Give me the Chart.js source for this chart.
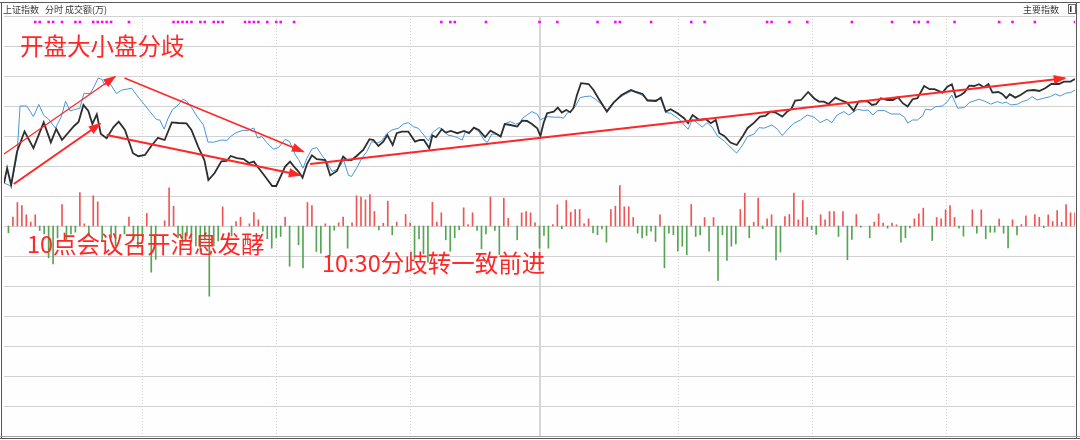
<!DOCTYPE html>
<html>
<head>
<meta charset="utf-8">
<script src="https://cdn.jsdelivr.net/npm/chart.js@4"></script>
<style>
html,body{margin:0;padding:0;background:#ffffff;}
#wrap{width:1080px;height:440px;position:relative;background:#fefefe;}
canvas{display:block;}
</style>
</head>
<body>
<div id="wrap"><canvas id="c" width="1080" height="440"></canvas></div>
<script>
// ---------- DATA ----------
// minute index from 9:30 (0) to 15:00 (240)
const weightedTime = [0,0.7,1.6,2.9,4.6,6.6,8.9,10.5,11.7,13.0,15.7,16.7,17.8,18.9,19.8,20.8,21.7,23.0,24.5,25.7,27.1,28.9,30.1,31.6,33.0,34.5,36.0,37.6,39.1,40.9,42.0,43.5,44.9,45.8,47.2,48.7,49.9,50.8,52.2,53.7,54.9,56.0,57.1,58.6,60.1,61.0,62.0,63.0,64.1,65.3,66.0,66.9,67.9,69.0,70.1,72.0,73.1,74.6,76.0,76.8,77.9,79.0,80.5,81.9,82.8,83.9,85.0,85.9,87.1,88.0,89.1,90.6,92.1,93.2,94.1,95.3,96.0,96.8,98.1,99.0,100.1,101.6,103.1,104.2,105.3,106.4,107.8,109.0,110.1,111.3,112.2,113.5,115.0,116.1,117.2,118.3,119.5,120.2,120.9,121.7,123.2,124.1,125.0,126.0,126.9,127.6,128.4,129.3,131.0,132.1,133.2,134.3,135.1,136.6,138.4,140.5,141.4,143.1,144.2,146.1,147.2,148.3,149.4,150.9,152.4,153.3,154.3,155.8,157.3,158.4,159.5,160.3,161.4,162.8,164.2,165.5,166.6,168.1,169.4,170.6,171.8,172.9,174.4,175.5,176.4,177.3,178.6,180.2,181.5,182.6,183.7,184.8,186.3,187.4,188.9,190.4,191.5,192.5,193.6,194.5,195.4,196.5,198.0,199.2,200.3,201.4,202.5,203.6,204.7,206.2,207.4,208.5,210.3,211.4,212.4,213.3,214.4,215.2,216.3,217.4,218.5,219.6,220.6,221.5,222.8,223.7,224.6,225.4,226.6,227.8,229.3,230.8,232.0,233.3,234.7,236.4,237.5,239.0,240];
const weightedValue = [3261.5,3268.9,3260.5,3277.0,3287.3,3278.9,3291.8,3281.8,3288.5,3283.0,3290.0,3292.0,3300.5,3297.5,3291.0,3295.8,3286.0,3283.9,3289.3,3292.2,3288.0,3276.4,3274.9,3275.5,3280.0,3284.1,3283.0,3291.8,3291.5,3291.3,3288.0,3279.7,3273.0,3263.0,3266.5,3272.3,3272.5,3275.0,3273.9,3273.5,3271.5,3272.2,3268.9,3264.5,3260.0,3260.0,3264.8,3269.7,3272.2,3268.9,3267.2,3264.2,3271.0,3275.3,3273.4,3273.0,3265.3,3267.5,3274.7,3273.0,3273.0,3275.0,3278.0,3283.4,3283.0,3280.0,3282.2,3285.5,3280.5,3286.4,3287.2,3287.2,3282.2,3283.0,3283.0,3278.9,3285.3,3284.4,3288.4,3286.7,3287.5,3286.4,3287.5,3286.4,3289.2,3288.0,3284.4,3287.7,3286.4,3284.7,3291.0,3290.5,3289.7,3292.7,3292.5,3291.0,3288.9,3285.0,3291.4,3296.4,3297.2,3299.2,3296.7,3298.0,3296.9,3298.9,3305.5,3311.4,3311.0,3308.0,3303.9,3300.0,3297.2,3301.7,3305.5,3308.0,3307.2,3306.0,3302.7,3302.5,3304.2,3297.2,3298.4,3296.4,3293.9,3291.4,3295.5,3293.0,3293.4,3291.4,3293.0,3286.4,3285.0,3281.7,3280.5,3284.7,3288.9,3291.7,3294.7,3295.0,3297.2,3296.7,3294.7,3297.2,3298.4,3302.7,3303.0,3307.0,3303.9,3302.2,3302.2,3301.0,3304.2,3303.0,3301.7,3297.7,3302.2,3302.5,3302.2,3300.5,3300.9,3303.9,3303.0,3303.0,3304.4,3301.4,3299.7,3303.4,3303.9,3310.0,3308.4,3308.4,3306.7,3309.7,3310.9,3304.4,3305.5,3306.7,3310.2,3310.0,3310.9,3309.4,3311.0,3306.7,3307.0,3306.0,3303.9,3305.9,3304.2,3305.5,3307.7,3308.0,3307.5,3308.9,3311.0,3311.0,3312.2,3312.2,3313.5];

const leadingTime = [0,1.6,2.9,3.6,5.1,6.6,7.8,8.9,10.0,11.5,12.8,13.8,14.8,15.9,17.0,17.9,19.3,20.0,21.1,21.9,22.6,23.7,25.2,26.4,27.7,28.6,29.9,31.2,32.7,34.2,34.9,35.9,36.7,37.7,39.0,40.1,40.9,42.0,43.2,44.7,45.7,47.0,48.7,50.0,50.8,51.9,53.4,54.7,56.0,56.8,57.8,58.9,60.4,61.6,63.0,64.0,65.3,66.0,67.0,67.9,69.0,70.1,71.2,72.3,73.5,74.4,75.3,76.1,77.2,77.9,79.0,80.2,81.3,82.4,83.5,84.6,85.7,86.9,88.4,89.5,90.6,91.7,92.8,93.9,95.1,96.0,97.5,98.2,99.4,100.5,101.6,102.7,103.4,104.5,105.3,106.4,107.6,108.3,109.3,110.5,111.3,112.4,113.5,114.6,115.7,116.2,117.2,118.3,119.5,120.2,120.9,121.9,123.2,124.7,125.4,126.2,127.3,128.0,129.1,130.2,131.4,132.5,133.6,135.1,136.2,137.7,139.2,140.7,141.8,142.9,144.2,145.7,147.2,148.3,149.4,151.3,152.4,153.3,154.3,155.4,156.5,157.5,158.7,159.9,161.4,162.8,164.2,165.5,166.6,168.1,169.2,170.3,172.1,173.3,174.4,175.5,177.0,178.5,180.0,181.5,182.9,184.4,185.5,186.7,188.2,189.3,190.0,191.3,192.5,193.6,194.7,195.8,197.3,198.8,200.7,201.8,202.5,203.6,204.7,205.9,206.5,207.7,208.8,210.3,211.4,212.4,213.7,215.2,216.3,218.5,220.0,221.1,222.6,223.7,224.6,225.6,227.1,228.2,229.3,230.4,231.5,233.0,234.5,235.6,236.7,237.9,239.0,240];
const leadingValue = [3261.5,3260.0,3275.0,3300.0,3300.0,3294.7,3300.8,3295.3,3293.4,3288.9,3294.4,3302.4,3297.5,3298.3,3298.9,3306.3,3306.2,3308.9,3313.9,3313.4,3310.5,3311.4,3306.2,3308.0,3308.5,3308.9,3305.0,3301.4,3297.2,3293.2,3293.0,3288.4,3293.5,3298.0,3300.5,3303.4,3302.5,3299.3,3295.0,3290.5,3282.0,3281.9,3283.0,3282.8,3284.8,3286.5,3287.8,3287.8,3289.0,3284.0,3284.7,3281.7,3278.3,3279.4,3283.3,3282.2,3275.5,3273.3,3268.9,3274.0,3278.5,3279.2,3275.5,3272.2,3267.3,3268.0,3270.0,3273.0,3265.3,3264.8,3268.9,3273.9,3277.2,3282.2,3281.4,3282.5,3286.0,3288.0,3288.9,3291.0,3291.7,3289.7,3288.9,3286.0,3282.5,3286.7,3289.2,3288.5,3285.5,3285.0,3284.2,3283.0,3287.2,3287.0,3288.9,3287.2,3283.0,3281.7,3286.0,3285.9,3285.0,3291.4,3292.2,3290.9,3291.7,3293.9,3295.5,3297.2,3295.9,3293.0,3293.9,3294.7,3294.4,3294.4,3293.9,3296.4,3298.0,3299.7,3304.2,3304.7,3305.0,3303.4,3301.4,3297.7,3300.9,3303.9,3305.9,3307.5,3306.5,3305.5,3303.3,3303.0,3303.4,3296.7,3296.4,3293.4,3290.5,3288.4,3293.4,3291.4,3289.4,3291.7,3289.4,3285.0,3282.5,3279.4,3276.4,3280.5,3284.7,3286.0,3289.2,3288.9,3290.5,3288.4,3285.2,3288.0,3291.4,3293.0,3295.5,3294.4,3291.7,3293.4,3291.7,3295.5,3297.2,3295.5,3296.5,3298.4,3297.8,3298.0,3295.5,3297.7,3297.7,3296.0,3296.0,3294.4,3291.4,3293.0,3293.0,3295.2,3298.4,3298.0,3299.7,3300.0,3302.2,3305.5,3298.9,3299.2,3301.7,3303.4,3302.2,3300.9,3302.2,3301.4,3301.9,3300.5,3300.9,3302.2,3303.0,3304.7,3303.0,3303.9,3304.7,3306.0,3305.0,3306.4,3306.7,3308.0];

// 成交额(万): positive = up minute (red), negative = down minute (green)
const volumeTime = [1,2,3,4,5,6,7,8,9,10,11,12,13,14,15,16,17,18,19,20,21,22,24,25,27,28,29,30,31,32,33,34,36,37,38,39,40,41,42,43,44,45,46,47,48,49,51,52,53,55,56,57,58,59,60,61,62,63,64,66,67,68,69,70,71,72,73,74,75,76,77,78,79,80,81,82,83,84,85,86,87,88,90,91,92,93,94,95,96,97,98,99,100,101,102,103,104,105,106,107,108,109,110,111,112,113,115,116,117,118,119,120,121,122,123,124,125,126,127,128,129,130,131,132,133,134,135,136,137,138,139,140,141,142,143,144,145,146,147,148,149,150,151,152,153,154,155,156,157,158,159,160,161,162,163,164,165,166,167,168,169,170,171,172,173,174,175,176,177,178,179,180,181,182,183,184,185,186,187,188,189,190,191,192,194,195,196,197,198,199,200,201,202,203,204,205,206,208,209,210,211,212,213,214,215,217,218,219,220,221,222,223,224,225,226,227,228,229,231,232,233,234,235,236,237,238,239,240];
const volumeValue = [-6800,8800,23500,20500,11200,3800,11200,-4500,-7800,-31800,-37800,-12000,21500,-14000,-7800,-6200,33500,2200,-10000,30200,24200,-15000,-12000,-20000,-8000,8800,-14000,-22000,-10000,12500,-46200,-33500,5200,38200,19800,-12000,-18000,-10000,-16000,-20000,-25000,-14000,-70200,-20000,-15000,19200,-10000,4500,8800,2200,13500,6200,-5200,-12800,-22200,-11800,-10500,8800,-40200,-18800,-41800,23500,20500,-25500,-27200,2200,-30000,-4200,3200,8800,-22200,3200,30200,28800,26200,31500,14500,-3800,2800,24800,-8800,3800,11500,3200,-32800,-12800,-27800,-36200,23800,3800,13200,-13800,-25200,-11800,-3800,18200,1500,13200,-4500,-22800,-7800,28800,-4500,-28500,27800,7800,-13800,13200,14500,13200,3200,-22200,-9500,-22200,1500,21200,-2800,25500,13800,16500,16500,2200,7200,-6800,-8800,-2800,-16200,16500,19800,40500,19200,19200,8500,-7200,-11800,-9500,-5200,-15500,11200,-41800,-7200,-8800,-25200,-20200,-28800,21500,-10500,-8800,8500,-25200,8500,-54500,-8800,-34500,-20200,-17800,16500,32800,-11800,3800,27800,-2800,7200,11200,-33800,-26200,9500,11500,32800,6200,25500,8500,-3500,-8500,11200,6200,14500,14500,-10500,14500,-33800,-13500,11500,-1200,-11800,3800,12200,2800,-2200,2800,1200,-16200,-11800,-1800,7200,12200,17800,-14500,8500,7200,16200,20500,8500,-2200,-10200,16200,-7200,16200,-12800,-6200,-6200,6800,-7200,-21800,6200,-8800,1500,10200,11500,8800,-1800,11200,4500,15500,3800,21500,13200,13200];

// signal marks (magenta) shown along the top
const signalTime = [7,8,10,11,13,16,17,20,21,22,23,24,28,38,39,40,41,42,44,45,47,48,49,54,55,56,57,59,61,62,65,98,100,101,108,120,124,133,137,138,145,154,157,171,172,176,180,190,199,204,205,207,213,223,226,231,240];
const signalLevel = 3342;

// annotation arrows (minute, index level)
const arrowFromTime  = [0, 2.2, 27.0, 23.0, 68.6];
const arrowFromValue = [3276.0, 3261.0, 3314.0, 3285.5, 3271.0];
const arrowToTime    = [24.8, 21.5, 67.0, 66.3, 237.7];
const arrowToValue   = [3314.5, 3291.0, 3277.2, 3265.5, 3313.9];

const annotationTexts = ['开盘大小盘分歧', '10点会议召开消息发酵', '10:30分歧转一致前进'];
const headerLeft = ['上证指数', '分时 成交额(万)'];
const headerRight = '主要指数';

// axis layout values
const priceMin = 3135, priceMax = 3345, priceStep = 15;
const volMin = -210000, volMax = 210000;
const sessionGridTimes = [31, 61, 91, 151, 181, 211];
const middayTime = 120;

// ---------- STYLE ----------
const RED = 'rgb(255,38,38)';
const BAR_UP = 'rgb(240,85,85)';
const BAR_DOWN = 'rgb(85,165,85)';
const arrowWidths = [1.2, 2, 1.6, 2, 2];

const pts = (ts, vs) => ts.map((t, i) => ({x: t, y: vs[i]}));

const arrowSets = arrowFromTime.map((t, i) => ({
  label: 'arrow' + i,
  isArrow: true,
  data: [{x: t, y: arrowFromValue[i]}, {x: arrowToTime[i], y: arrowToValue[i]}],
  borderColor: RED,
  borderWidth: arrowWidths[i],
  pointRadius: 0,
  yAxisID: 'y',
  order: 1
}));

const gridPlugin = {
  id: 'gridPlugin',
  beforeDatasetsDraw(chart) {
    const {ctx, chartArea: a, scales} = chart;
    const x = scales.x, y = scales.y;
    ctx.save();
    ctx.strokeStyle = '#d2d2d2';
    ctx.lineWidth = 1;
    for (let v = priceMin; v <= priceMax + 0.001; v += priceStep) {
      const py = Math.round(y.getPixelForValue(v)) + 0.5;
      ctx.beginPath(); ctx.moveTo(a.left, py); ctx.lineTo(a.right, py); ctx.stroke();
    }
    ctx.strokeStyle = '#cfcfcf';
    ctx.setLineDash([1, 2]);
    sessionGridTimes.forEach(t => {
      const px = Math.round(x.getPixelForValue(t)) + 0.5;
      ctx.beginPath(); ctx.moveTo(px, a.top); ctx.lineTo(px, a.bottom); ctx.stroke();
    });
    ctx.setLineDash([]);
    ctx.strokeStyle = '#d6d6d6';
    ctx.lineWidth = 2;
    const mx = Math.round(x.getPixelForValue(middayTime));
    ctx.beginPath(); ctx.moveTo(mx, a.top); ctx.lineTo(mx, a.bottom); ctx.stroke();
    ctx.restore();
  }
};

const arrowHeadPlugin = {
  id: 'arrowHeads',
  afterDatasetsDraw(chart) {
    const ctx = chart.ctx;
    ctx.save();
    chart.data.datasets.forEach((ds, i) => {
      if (!ds.isArrow) return;
      const el = chart.getDatasetMeta(i).data;
      const p0 = el[0], p1 = el[1];
      const ang = Math.atan2(p1.y - p0.y, p1.x - p0.x);
      const len = 11, hw = 4.5;
      ctx.fillStyle = RED;
      ctx.beginPath();
      ctx.moveTo(p1.x + Math.cos(ang) * 2, p1.y + Math.sin(ang) * 2);
      ctx.lineTo(p1.x - Math.cos(ang) * len - Math.sin(ang) * hw, p1.y - Math.sin(ang) * len + Math.cos(ang) * hw);
      ctx.lineTo(p1.x - Math.cos(ang) * len + Math.sin(ang) * hw, p1.y - Math.sin(ang) * len - Math.cos(ang) * hw);
      ctx.closePath();
      ctx.fill();
    });
    ctx.restore();
  }
};

const framePlugin = {
  id: 'framePlugin',
  afterDraw(chart) {
    const ctx = chart.ctx;
    ctx.save();
    // frame
    ctx.fillStyle = '#5a5a5a';
    ctx.fillRect(0, 2, 1080, 1);
    ctx.fillRect(1, 2, 1, 437);
    ctx.fillRect(1076, 2, 1, 437);
    ctx.fillStyle = '#a0a0a0';
    ctx.fillRect(0, 436, 1080, 1);
    ctx.fillStyle = '#555';
    ctx.fillRect(0, 438, 1080, 1);
    // header
    ctx.fillStyle = '#3a3a3a';
    ctx.font = '9px "Noto Sans CJK SC", sans-serif';
    ctx.textBaseline = 'middle';
    ctx.textAlign = 'left';
    ctx.fillText(headerLeft[0], 3, 9.5);
    ctx.fillText(headerLeft[1], 45, 9.5);
    ctx.fillText(headerRight, 1023, 9.5);
    ctx.strokeStyle = '#666';
    ctx.lineWidth = 1;
    ctx.strokeRect(1068.5, 4.5, 7, 9);
    ctx.fillStyle = '#333';
    ctx.fillRect(1070, 6, 1.5, 6);
    // annotation texts
    ctx.fillStyle = RED;
    ctx.font = '23.5px "Noto Sans CJK SC", sans-serif';
    ctx.textBaseline = 'middle';
    ctx.fillText(annotationTexts[0], 20, 46);
    ctx.fillText(annotationTexts[1], 27, 244);
    ctx.fillText(annotationTexts[2], 322, 263);
    ctx.restore();
  }
};

new Chart(document.getElementById('c'), {
  type: 'line',
  data: {
    datasets: [
      ...arrowSets,
      {
        label: 'signals',
        data: signalTime.map(t => ({x: t, y: signalLevel})),
        showLine: false,
        pointStyle: 'rect',
        pointRadius: 1.8,
        pointBackgroundColor: '#ff00ff',
        pointBorderWidth: 0,
        yAxisID: 'y',
        order: 0
      },
      {
        label: '上证指数',
        data: pts(weightedTime, weightedValue),
        borderColor: '#2e2e2e',
        borderWidth: 1.8,
        pointRadius: 0,
        tension: 0,
        yAxisID: 'y',
        order: 2
      },
      {
        label: '领先指标',
        data: pts(leadingTime, leadingValue),
        borderColor: '#4a95db',
        borderWidth: 1,
        pointRadius: 0,
        tension: 0,
        yAxisID: 'y',
        order: 3
      },
      {
        type: 'bar',
        label: '成交额(万)',
        data: pts(volumeTime, volumeValue),
        backgroundColor: volumeValue.map(v => v >= 0 ? BAR_UP : BAR_DOWN),
        borderWidth: 0,
        barThickness: 1,
        yAxisID: 'yv',
        order: 4
      }
    ]
  },
  options: {
    responsive: false,
    devicePixelRatio: 1,
    animation: false,
    events: [],
    layout: {padding: {left: 2, right: 5, top: 16, bottom: 4}},
    plugins: {legend: {display: false}, tooltip: {enabled: false}},
    scales: {
      x: {type: 'linear', min: 0, max: 240, offset: false, display: false},
      y: {type: 'linear', min: priceMin, max: priceMax, display: false},
      yv: {type: 'linear', min: volMin, max: volMax, display: false}
    }
  },
  plugins: [gridPlugin, arrowHeadPlugin, framePlugin]
});
</script>
</body>
</html>
